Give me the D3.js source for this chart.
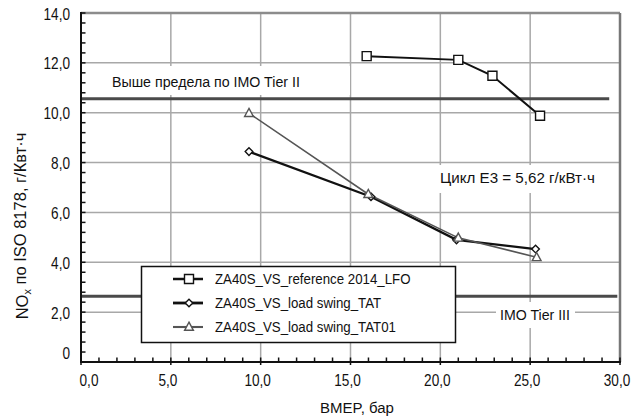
<!DOCTYPE html>
<html>
<head>
<meta charset="utf-8">
<script src="https://cdn.jsdelivr.net/npm/d3@7"></script>
<style>
  html, body { margin: 0; padding: 0; background: #fff; }
  svg { display: block; }
  text { font-family: "Liberation Sans", Arial, sans-serif; fill: #111; }
</style>
</head>
<body>
<svg id="chart" width="638" height="419"></svg>
<script>
// Series: NOx emissions vs BMEP
const refBmep   = [15.9, 21.0, 22.9, 25.55];
const refNox    = [12.27, 12.12, 11.48, 9.88];
const tatBmep   = [9.35, 16.14, 20.9, 25.3];
const tatNox    = [8.44, 6.63, 4.9, 4.53];
const tat01Bmep = [9.35, 15.99, 21.0, 25.36];
const tat01Nox  = [9.98, 6.73, 4.98, 4.2];

const seriesNames = ["ZA40S_VS_reference 2014_LFO", "ZA40S_VS_load swing_TAT", "ZA40S_VS_load swing_TAT01"];

// IMO limits
const tier2Limit = 10.56;
const tier3Limit = 2.64;

const xTicks = [0, 5, 10, 15, 20, 25, 30];
const xTickLabels = ["0,0", "5,0", "10,0", "15,0", "20,0", "25,0", "30,0"];
const yTicks = [0, 2, 4, 6, 8, 10, 12, 14];
const yTickLabels = ["0", "2,0", "4,0", "6,0", "8,0", "10,0", "12,0", "14,0"];

const svg = d3.select("#chart");
const x = d3.scaleLinear().domain([0, 30]).range([81, 620]);
const y = d3.scaleLinear().domain([0, 14]).range([362, 13]);

// Condensed text: draw at origin, then squeeze horizontally.
// If width is given, the squeeze fits the string to that width.
function label(parent, str, px, py, size, opts = {}) {
  const g = parent.append("g");
  const t = g.append("text").attr("font-size", size).attr("dy", "0.35em")
    .attr("text-anchor", opts.anchor || "start").text(str);
  let sx = opts.sx || 0.87;
  if (opts.width) sx = opts.width / t.node().getComputedTextLength();
  g.attr("transform", `translate(${px},${py})${opts.rotate ? ` rotate(${opts.rotate})` : ""} scale(${sx},1)`);
  return t;
}

// Grid
const grid = svg.append("g");
grid.selectAll("line.gx").data(xTicks.filter(d => d > 0 && d < 30)).join("line")
  .attr("x1", d => x(d)).attr("x2", d => x(d)).attr("y1", y(14)).attr("y2", y(0))
  .attr("stroke", "#a8a8a8").attr("stroke-width", 1.5);
grid.selectAll("line.gy").data(yTicks.filter(d => d > 0 && d < 14)).join("line")
  .attr("x1", x(0)).attr("x2", x(30)).attr("y1", d => y(d)).attr("y2", d => y(d))
  .attr("stroke", "#a8a8a8").attr("stroke-width", 1.5);

// Frame (top and right)
svg.append("line").attr("x1", x(0)).attr("x2", x(30)).attr("y1", y(14)).attr("y2", y(14))
  .attr("stroke", "#8c8c8c").attr("stroke-width", 2.5);
svg.append("line").attr("x1", x(30)).attr("x2", x(30)).attr("y1", y(14)).attr("y2", y(0))
  .attr("stroke", "#777").attr("stroke-width", 2.5);

// Limit lines
svg.append("line").attr("x1", x(0)).attr("x2", x(29.4)).attr("y1", y(tier2Limit)).attr("y2", y(tier2Limit))
  .attr("stroke", "#4a4a4a").attr("stroke-width", 3);
svg.append("line").attr("x1", x(0)).attr("x2", x(29.85)).attr("y1", y(tier3Limit)).attr("y2", y(tier3Limit))
  .attr("stroke", "#4a4a4a").attr("stroke-width", 3);

// Annotation boxes with text
function note(txt, tx, ty, w, box) {
  svg.append("rect").attr("x", box[0]).attr("y", box[1]).attr("width", box[2]).attr("height", box[3]).attr("fill", "#fff");
  label(svg, txt, tx, ty, 15, { width: w });
}
note("Выше предела по IMO Tier II", 112, 82, 188, [82, 66, 268, 29]);
note("Цикл E3 = 5,62 г/кВт·ч", 440, 178, 155, [437, 165, 163, 28]);
note("IMO Tier III", 500, 315, 70, [496, 302, 79, 26]);

// Axes
const axisG = svg.append("g");
axisG.append("line").attr("x1", x(0)).attr("x2", x(0)).attr("y1", y(14) - 1).attr("y2", y(0) + 1)
  .attr("stroke", "#111").attr("stroke-width", 2);
axisG.append("line").attr("x1", x(0) - 1).attr("x2", x(30) + 1).attr("y1", y(0)).attr("y2", y(0))
  .attr("stroke", "#111").attr("stroke-width", 2);

const yMinor = d3.range(0, 14.001, 0.4).map(v => +v.toFixed(1));
axisG.selectAll("line.ym").data(yMinor).join("line")
  .attr("x1", x(0)).attr("x2", x(0) + 4.5).attr("y1", d => y(d)).attr("y2", d => y(d))
  .attr("stroke", "#111").attr("stroke-width", 1.5);
const xMinor = d3.range(0, 30.001, 1);
axisG.selectAll("line.xm").data(xMinor).join("line")
  .attr("x1", d => x(d)).attr("x2", d => x(d)).attr("y1", y(0)).attr("y2", y(0) - 4.5)
  .attr("stroke", "#111").attr("stroke-width", 1.5);
axisG.selectAll("line.xM").data(xTicks).join("line")
  .attr("x1", d => x(d)).attr("x2", d => x(d)).attr("y1", y(0)).attr("y2", y(0) + 3)
  .attr("stroke", "#111").attr("stroke-width", 1.5);

yTicks.forEach((d, i) => {
  label(axisG, yTickLabels[i], 70, y(d) + (d === 0 ? -9 : 1), 16, { anchor: "end", sx: 0.85 });
});
xTicks.forEach((d, i) => {
  label(axisG, xTickLabels[i], x(d) + (d === 0 ? 8 : -3), 380, 16, { anchor: "middle", sx: 0.85 });
});

// Axis titles
label(svg, "BMEP, бар", 357, 408, 15, { anchor: "middle", width: 74 });
const yt = svg.append("text")
  .attr("transform", "translate(22,226) rotate(-90)")
  .attr("text-anchor", "middle").attr("dy", "0.35em").attr("font-size", 16.5);
yt.append("tspan").text("NO");
yt.append("tspan").attr("font-size", 11).attr("dy", "0.3em").text("x");
yt.append("tspan").attr("dy", "-0.3em").text(" по ISO 8178, г/Квт·ч");

// Series
const series = [
  { xs: refBmep, ys: refNox, color: "#111", width: 2, shape: "square" },
  { xs: tatBmep, ys: tatNox, color: "#111", width: 2.3, shape: "diamond" },
  { xs: tat01Bmep, ys: tat01Nox, color: "#555", width: 1.6, shape: "triangle" }
];
const line = d3.line().x(d => x(d[0])).y(d => y(d[1]));
function markerPath(shape) {
  if (shape === "square") return "M-4.5,-4.5H4.5V4.5H-4.5Z";
  if (shape === "diamond") return "M0,-3.8L3.8,0L0,3.8L-3.8,0Z";
  return "M0,-4.8L4.4,3.3H-4.4Z";
}
series.forEach(s => {
  const pts = s.xs.map((v, i) => [v, s.ys[i]]);
  svg.append("path").attr("d", line(pts)).attr("fill", "none")
    .attr("stroke", s.color).attr("stroke-width", s.width);
});
series.forEach(s => {
  const pts = s.xs.map((v, i) => [v, s.ys[i]]);
  svg.selectAll(null).data(pts).join("path")
    .attr("transform", d => `translate(${x(d[0])},${y(d[1])})`)
    .attr("d", markerPath(s.shape)).attr("fill", "#fff")
    .attr("stroke", s.color).attr("stroke-width", 1.4);
});

// Legend
const lg = svg.append("g");
lg.append("rect").attr("x", 141.5).attr("y", 266.5).attr("width", 314).attr("height", 76)
  .attr("fill", "#fff").attr("stroke", "#111").attr("stroke-width", 1.5);
const rowsY = [279, 303, 327];
series.forEach((s, i) => {
  lg.append("line").attr("x1", 173).attr("x2", 203).attr("y1", rowsY[i]).attr("y2", rowsY[i])
    .attr("stroke", s.color).attr("stroke-width", s.width + 0.5);
  lg.append("path").attr("transform", `translate(189,${rowsY[i]})`).attr("d", markerPath(s.shape))
    .attr("fill", "#fff").attr("stroke", s.color).attr("stroke-width", 1.4);
  label(lg, seriesNames[i], 215, rowsY[i], 15, { sx: 0.885 });
});
</script>
</body>
</html>
